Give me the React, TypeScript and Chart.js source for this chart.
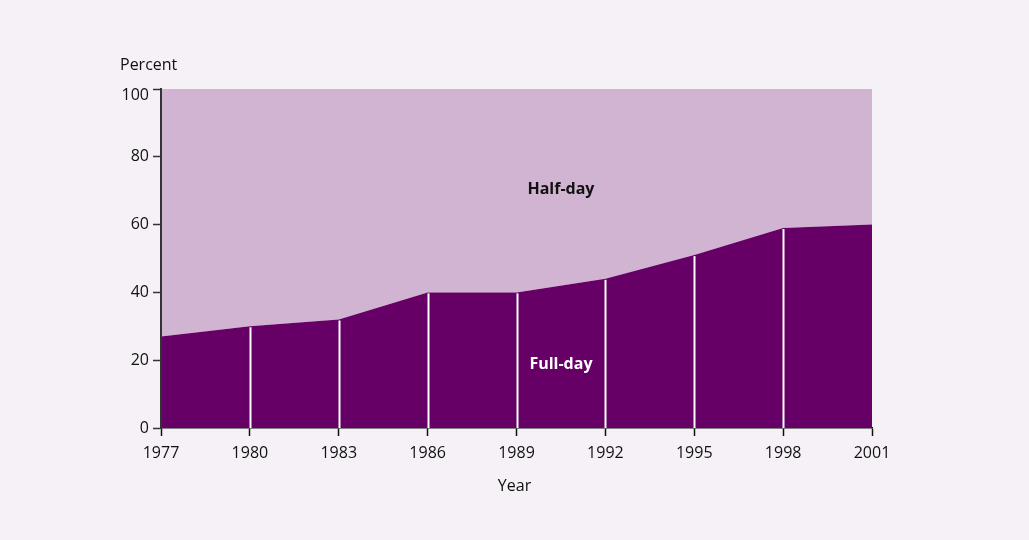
import React, { useEffect, useRef } from "react";
import { Chart, registerables } from "chart.js";

Chart.register(...registerables);

const years = ["1977", "1980", "1983", "1986", "1989", "1992", "1995", "1998", "2001"];
const fullDay = [27, 30, 32, 40, 40, 44, 51, 59, 60];
const total = [100, 100, 100, 100, 100, 100, 100, 100, 100];
const yTicks = [0, 20, 40, 60, 80, 100];

const FONT = "'Open Sans', 'Noto Sans', sans-serif";
const BG = "#f6f1f7";
const DARK = "#660066";
const LIGHT = "#d1b3d2";

const overlay = {
  id: "overlay",
  afterDatasetsDraw(chart: any) {
    const { ctx, scales, chartArea } = chart;
    const x = scales.x;
    const y = scales.y;
    ctx.save();
    // white separators inside the full-day area
    ctx.strokeStyle = "#ffffff";
    ctx.lineWidth = 2;
    for (let i = 1; i < years.length - 1; i++) {
      const px = Math.round(x.getPixelForValue(i)) + 0.5;
      ctx.beginPath();
      ctx.moveTo(px, y.getPixelForValue(0));
      ctx.lineTo(px, y.getPixelForValue(fullDay[i]) + 1);
      ctx.stroke();
    }
    // left axis line, drawn over the fills
    ctx.strokeStyle = "#333333";
    ctx.lineWidth = 2;
    ctx.beginPath();
    ctx.moveTo(chartArea.left, y.getPixelForValue(100) - 1);
    ctx.lineTo(chartArea.left, y.getPixelForValue(0));
    ctx.stroke();
    ctx.textAlign = "center";
    ctx.textBaseline = "middle";
    ctx.font = `bold 16px ${FONT}`;
    ctx.fillStyle = "#111111";
    ctx.fillText("Half-day", x.getPixelForValue(4.5), y.getPixelForValue(70.5));
    ctx.fillStyle = "#ffffff";
    ctx.fillText("Full-day", x.getPixelForValue(4.5), y.getPixelForValue(18.8));
    ctx.restore();
  },
  afterDraw(chart: any) {
    const { ctx, chartArea } = chart;
    ctx.save();
    ctx.font = `16px ${FONT}`;
    ctx.fillStyle = "#111111";
    ctx.textAlign = "left";
    ctx.textBaseline = "alphabetic";
    ctx.fillText("Percent", 120, 70);
    ctx.textAlign = "center";
    ctx.fillText("Year", (chartArea.left + chartArea.right) / 2 - 2, 491);
    ctx.restore();
  },
};

export default function App() {
  const ref = useRef<HTMLCanvasElement>(null);
  useEffect(() => {
    const canvas = ref.current!;
    const chart = new Chart(canvas, {
      type: "line",
      data: {
        labels: years,
        datasets: [
          {
            label: "Full-day",
            data: fullDay,
            fill: "origin",
            backgroundColor: DARK,
            borderColor: "rgba(0,0,0,0)",
            borderWidth: 0,
            pointRadius: 0,
            tension: 0,
          },
          {
            label: "Half-day",
            data: total,
            fill: "-1",
            backgroundColor: LIGHT,
            borderColor: "rgba(0,0,0,0)",
            borderWidth: 0,
            pointRadius: 0,
            tension: 0,
          },
        ],
      },
      options: {
        responsive: false,
        animation: false,
        devicePixelRatio: 1,
        layout: { padding: { top: 89, right: 157, left: 0, bottom: 0 } },
        plugins: {
          legend: { display: false },
          tooltip: { enabled: false },
          title: { display: false },
        },
        scales: {
          x: {
            type: "category",
            offset: false,
            z: 1,
            grid: {
              drawOnChartArea: false,
              drawTicks: true,
              tickLength: 8,
              tickColor: "#111111",
              tickWidth: 1.5,
            },
            border: { display: true, color: "#111111", width: 1.5 },
            ticks: {
              color: "#111111",
              font: { family: FONT, size: 16 },
              padding: 8,
              maxRotation: 0,
              autoSkip: false,
            },
            afterFit(scale: any) {
              scale.height = 112;
            },
          },
          y: {
            min: 0,
            max: 100,
            z: 1,
            afterBuildTicks(scale: any) {
              scale.ticks = yTicks.map((v) => ({ value: v }));
            },
            grid: {
              drawOnChartArea: false,
              drawTicks: true,
              tickLength: 8,
              tickColor: "#333333",
              tickWidth: 1.5,
            },
            border: { display: true, color: "#333333", width: 2 },
            ticks: {
              color: "#111111",
              font: (c: any) =>
                c.tick && c.tick.value === 100
                  ? { family: FONT, size: 16, lineHeight: 0.75 }
                  : { family: FONT, size: 16 },
              padding: 4,
              callback: (v: any) => (v === 100 ? ["", "100"] : String(v)),
            },
            afterFit(scale: any) {
              scale.width = 161;
            },
          },
        },
      },
      plugins: [overlay],
    } as any);
    return () => chart.destroy();
  }, []);
  return (
    <div
      style={{
        position: "fixed",
        left: 0,
        top: 0,
        width: 1029,
        height: 540,
        background: BG,
      }}
    >
      <canvas ref={ref} width={1029} height={540} style={{ width: 1029, height: 540, display: "block" }} />
    </div>
  );
}
